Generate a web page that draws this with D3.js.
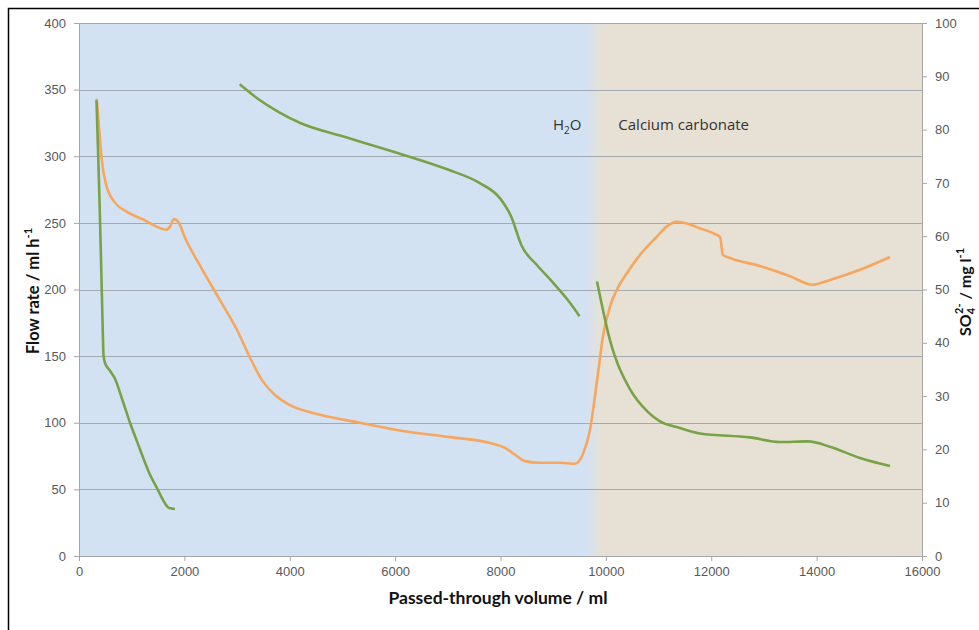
<!DOCTYPE html>
<html>
<head>
<meta charset="utf-8">
<script src="https://cdn.jsdelivr.net/npm/d3@7"></script>
<style>
  body { margin: 0; background: #fff; }
  svg { display: block; font-family: Lato, "Open Sans", sans-serif; }
  .tick text { fill: #595959; font-size: 13px; }
  .axis path, .axis line { stroke: #a6a6a6; }
  .grid line { stroke: #a3a9b0; stroke-width: 1; }
  .title { font-weight: bold; fill: #111; }
</style>
</head>
<body>
<script>
// flow rate (ml/h) vs passed-through volume (ml), three runs
var flowRun1 = [
  [332, 342], [361, 305], [389, 267], [418, 222], [446, 177], [465, 151],
  [493, 145], [588, 139], [683, 133], [816, 118], [968, 100], [1101, 86],
  [1215, 74], [1348, 61], [1480, 51], [1575, 43.5], [1651, 38.3],
  [1708, 36], [1822, 35.3]
];
var flowRun2 = [
  [3050, 354], [3400, 343], [3800, 333], [4200, 325], [5000, 315],
  [6000, 303], [7000, 290], [7600, 280], [8000, 268], [8200, 255],
  [8400, 233], [8700, 218], [9000, 205], [9300, 191], [9500, 180]
];
var flowRun3 = [
  [9832, 206], [10078, 162], [10460, 125], [10800, 108], [11028, 101],
  [11407, 96], [11786, 92], [12736, 89], [13305, 85.5], [13837, 86],
  [14254, 82], [14823, 73.5], [15393, 67.5]
];
// sulfate (mg/l) vs passed-through volume (ml)
var sulfate = [
  [336, 85.8], [380, 80.5], [430, 74.5], [520, 69.5], [683, 66.3],
  [905, 64.6], [1220, 63.1], [1475, 61.8], [1651, 61.2], [1727, 61.8],
  [1803, 63.2], [1885, 62.7], [2012, 59.7], [2297, 54.5], [2676, 48],
  [3000, 42.4], [3246, 37.2], [3473, 33], [3720, 30.2], [4005, 28.3],
  [4574, 26.5], [5333, 25], [6000, 23.7], [7042, 22.3], [7801, 21.2],
  [8086, 20.3], [8275, 19], [8465, 17.8], [8750, 17.5], [9130, 17.5],
  [9414, 17.3], [9572, 19.3], [9699, 23.7], [9780, 29], [9860, 35],
  [9950, 41.5], [10078, 46.8], [10236, 50.5], [10395, 53],
  [10648, 56.5], [10965, 59.9], [11154, 61.8], [11344, 62.7],
  [11534, 62.4], [11781, 61.5], [12071, 60.4], [12170, 59.8],
  [12220, 56.5], [12356, 55.9], [12925, 54.4], [13495, 52.5],
  [13912, 50.9], [14254, 51.8], [14823, 53.7], [15393, 56.1]
];
var phases = [
  { name: "H2O", from: 0, to: 9800 },
  { name: "Calcium carbonate", from: 9800, to: 16000 }
];
var xTicks = d3.range(0, 16001, 2000);
var yLeftTicks = d3.range(0, 401, 50);
var yRightTicks = d3.range(0, 101, 10);

var W = 979, H = 630;
var margin = { top: 23, right: 57, bottom: 74, left: 79 },
  width = W - margin.left - margin.right,
  height = H - margin.top - margin.bottom;

var x = d3.scaleLinear().domain([0, 16000]).range([0, width]);
var yL = d3.scaleLinear().domain([0, 400]).range([height, 0]);
var yR = d3.scaleLinear().domain([0, 100]).range([height, 0]);

var svg = d3.select("body").append("svg").attr("width", W).attr("height", H);

// frame
svg.append("rect")
  .attr("x", 8.5).attr("y", 8.5)
  .attr("width", 1200).attr("height", 1200)
  .attr("fill", "none").attr("stroke", "#000").attr("stroke-width", 1.5);

var g = svg.append("g")
  .attr("transform", "translate(" + margin.left + "," + margin.top + ")");

// background shading for the two phases
var grad = svg.append("defs").append("linearGradient")
  .attr("id", "bg").attr("gradientUnits", "userSpaceOnUse")
  .attr("x1", 0).attr("x2", width).attr("y1", 0).attr("y2", 0);
var edge = phases[0].to;
grad.append("stop").attr("offset", x(edge - 180) / width).attr("stop-color", "#d3e2f3");
grad.append("stop").attr("offset", x(edge + 120) / width).attr("stop-color", "#e6e1d4");

g.append("rect")
  .attr("x", x(0)).attr("y", 0)
  .attr("width", x(16000) - x(0)).attr("height", height)
  .attr("fill", "url(#bg)");

// grid
g.append("g").attr("class", "grid")
  .selectAll("line")
  .data(yLeftTicks.filter(function (d) { return d > 0; }))
  .join("line")
  .attr("x1", 0).attr("x2", width)
  .attr("y1", function (d) { return Math.round(yL(d)) + 0.5; })
  .attr("y2", function (d) { return Math.round(yL(d)) + 0.5; });

// axes
g.append("g").attr("class", "axis")
  .attr("transform", "translate(0," + height + ")")
  .call(d3.axisBottom(x).tickValues(xTicks).tickFormat(d3.format("d"))
    .tickSizeOuter(0).tickSize(5).tickPadding(6));
g.append("g").attr("class", "axis")
  .call(d3.axisLeft(yL).tickValues(yLeftTicks).tickSizeOuter(0).tickSize(5).tickPadding(8));
g.append("g").attr("class", "axis")
  .attr("transform", "translate(" + width + ",0)")
  .call(d3.axisRight(yR).tickValues(yRightTicks).tickSizeOuter(0).tickSize(5).tickPadding(8));

// lines
var lineL = d3.line()
  .x(function (d) { return x(d[0]); })
  .y(function (d) { return yL(d[1]); })
  .curve(d3.curveMonotoneX);
var lineR = d3.line()
  .x(function (d) { return x(d[0]); })
  .y(function (d) { return yR(d[1]); })
  .curve(d3.curveMonotoneX);

g.append("path").datum(sulfate)
  .attr("d", lineR).attr("fill", "none")
  .attr("stroke", "#f7a65e").attr("stroke-width", 2.6);

[flowRun1, flowRun2, flowRun3].forEach(function (run) {
  g.append("path").datum(run)
    .attr("d", lineL).attr("fill", "none")
    .attr("stroke", "#78a246").attr("stroke-width", 2.6)
    .attr("stroke-linejoin", "round");
});

// phase labels
var h2o = g.append("text")
  .attr("x", x(edge) - 14).attr("y", 107)
  .attr("text-anchor", "end").attr("fill", "#333").style("font-size", "15px")
  .style("font-family", "'Open Sans', sans-serif");
h2o.append("tspan").text("H");
h2o.append("tspan").attr("dy", 4).style("font-size", "10px").text("2");
h2o.append("tspan").attr("dy", -4).text("O");

g.append("text")
  .attr("x", x(edge) + 23).attr("y", 107)
  .attr("fill", "#333").style("font-size", "15px")
  .style("font-family", "'Open Sans', sans-serif")
  .text(phases[1].name);

// axis titles
svg.append("text").attr("class", "title")
  .attr("x", 498).attr("y", 604)
  .attr("text-anchor", "middle").style("font-size", "17.5px")
  .text("Passed-through volume / ml");

var tl = svg.append("text").attr("class", "title")
  .attr("transform", "translate(39,291) rotate(-90)")
  .attr("text-anchor", "middle").style("font-size", "16.5px");
tl.append("tspan").text("Flow rate / ml h");
tl.append("tspan").attr("dy", -7).style("font-size", "11px").text("-1");

var tr = svg.append("text").attr("class", "title")
  .attr("transform", "translate(971,292) rotate(-90)")
  .attr("text-anchor", "middle").style("font-size", "16px");
tr.append("tspan").text("SO");
tr.append("tspan").attr("dy", 4).style("font-size", "11px").text("4");
tr.append("tspan").attr("dy", -12).attr("dx", -6).style("font-size", "11px").text("2-");
tr.append("tspan").attr("dy", 8).text(" / mg l");
tr.append("tspan").attr("dy", -7).style("font-size", "11px").text("-1");
</script>
</body>
</html>
